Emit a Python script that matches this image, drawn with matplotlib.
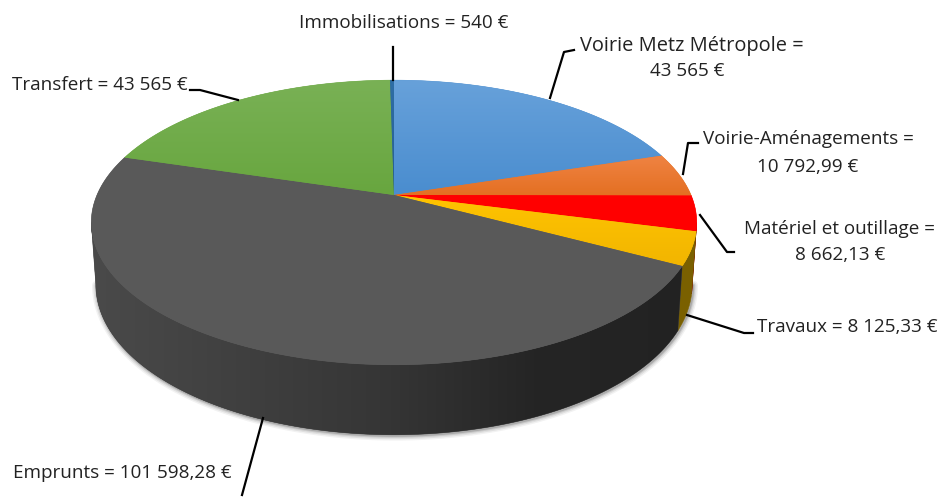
import numpy as np
import matplotlib
matplotlib.use('Agg')
import matplotlib.pyplot as plt
from matplotlib.colors import LinearSegmentedColormap, to_rgb

plt.rcParams['font.family'] = ['Open Sans', 'DejaVu Sans']

# valeurs
categories = ['Voirie Metz Métropole', 'Voirie-Aménagements', 'Matériel et outillage',
              'Travaux', 'Emprunts', 'Transfert', 'Immobilisations']
values = [43565, 10792.99, 8662.13, 8125.33, 101598.28, 43565, 540]

# dégradé de chaque part : couleur haut, couleur bas
top_colors = [('#67a1da', '#4a8dcf'), ('#ef8342', '#e46f22'), ('#ff0000', '#ff0000'),
              ('#ffc400', '#f2b500'), ('#595959', '#595959'), ('#79b155', '#68a63f'),
              ('#2f6ea5', '#255e91')]
side_colors = ['#2c5a85', '#8a4a1a', '#8a0000', '#7a6000', '#3a3a3a', '#40662a', '#1c466c']

# projection du disque (perspective)
hub_x, hub_y = 394, 195
a, b, k = 297, 137, 0.193


def project(theta):
    u, v = np.sin(theta), np.cos(theta)
    return hub_x + a * u / (1 + k * v), hub_y - b * v / (1 + k * v)


def project_low(theta):
    x, y = project(theta)
    v = np.cos(theta)
    return hub_x + (x - hub_x) * 0.985, y + 60 - 10 * np.minimum(v, 0)


fig = plt.figure(figsize=(9.44, 4.97), dpi=100)
ax = fig.add_axes([0, 0, 1, 1])

fractions = np.array(values) / np.sum(values)
edges = np.concatenate([[0], np.cumsum(fractions)]) * 2 * np.pi

# partie visible du bord : entre les deux tangentes
start = np.pi * 0.5 + np.arcsin(k)
stop = np.pi * 1.5 - np.arcsin(k)

# ombre douce sous le bord
rim = np.linspace(start, stop, 200)
lx, ly = project_low(rim)
for width, alpha in [(7, 0.05), (5, 0.07), (3, 0.1), (1.5, 0.15)]:
    ax.plot(lx + 1, ly + 1, color='black', lw=width, alpha=alpha, solid_capstyle='round', zorder=1)

# bord du camembert, une surface par part
grey_cmap = LinearSegmentedColormap.from_list(
    'bord', [(0.29, 0.29, 0.29), (0.25, 0.25, 0.25), (0.21, 0.21, 0.21), (0.145, 0.145, 0.145), (0.135, 0.135, 0.135)])
for i, name in enumerate(categories):
    t0 = max(edges[i], start)
    t1 = min(edges[i + 1], stop)
    if t1 <= t0:
        continue
    th = np.linspace(t0, t1, 200)
    x0, y0 = project(th)
    x1, y1 = project_low(th[::-1])
    px, py = np.r_[x0, x1], np.r_[y0, y1]
    poly = ax.fill(px, py, facecolor=side_colors[i], edgecolor=side_colors[i], lw=0.4, zorder=2)[0]
    if name == 'Emprunts':
        im = ax.imshow(np.linspace(0, 1, 256).reshape(1, -1), cmap=grey_cmap, aspect='auto', zorder=2.5,
                       extent=[px.min(), px.max(), py.max(), py.min()], interpolation='bilinear')
        im.set_clip_path(poly)

# dessus du camembert
for i, name in enumerate(categories):
    th = np.linspace(edges[i], edges[i + 1], max(int(fractions[i] * 720), 4))
    x, y = project(th)
    px = np.r_[hub_x, x]
    py = np.r_[hub_y, y]
    poly = ax.fill(px, py, facecolor=top_colors[i][1], edgecolor=top_colors[i][1], lw=0.4, zorder=3)[0]
    cmap = LinearSegmentedColormap.from_list(name, [to_rgb(c) for c in top_colors[i]])
    im = ax.imshow(np.linspace(0, 1, 64).reshape(-1, 1), cmap=cmap, aspect='auto', zorder=4,
                   extent=[px.min(), px.max(), py.max(), py.min()], interpolation='bilinear')
    im.set_clip_path(poly)

# traits de rappel
leaders = [
    ([393, 393], [47, 80]),
    ([550, 564, 574], [98, 52, 50]),
    ([683, 688, 698], [174, 143, 143]),
    ([700, 727, 734], [215, 252, 252]),
    ([687, 744, 753], [315, 333, 333]),
    ([263, 242], [418, 495]),
    ([238, 200, 190], [100, 90, 90]),
]
for lxs, lys in leaders:
    ax.plot(lxs, lys, color='black', lw=1.6, solid_joinstyle='round', zorder=6)

# étiquettes
txt = dict(fontsize=13.6, color='#222222', va='center', zorder=7)
ax.text(404, 22.5, 'Immobilisations = 540 €', ha='center', **txt)
ax.text(100, 85.5, 'Transfert = 43 565 €', ha='center', **txt)
ax.text(692, 46.5, 'Voirie Metz Métropole =', ha='center', fontsize=14.4, color='#222222', va='center', zorder=7)
ax.text(687, 71.5, '43 565 €', ha='center', **txt)
ax.text(808, 139.5, 'Voirie-Aménagements =', ha='center', **txt)
ax.text(808, 166.5, '10 792,99 €', ha='center', **txt)
ax.text(840, 228.5, 'Matériel et outillage =', ha='center', **txt)
ax.text(840, 255.5, '8 662,13 €', ha='center', **txt)
ax.text(847, 327.5, 'Travaux = 8 125,33 €', ha='center', **txt)
ax.text(122, 473.5, 'Emprunts = 101 598,28 €', ha='center', **txt)

ax.set_xlim(0, 944)
ax.set_ylim(497, 0)
ax.axis('off')

fig.savefig('out.png', dpi=100)
